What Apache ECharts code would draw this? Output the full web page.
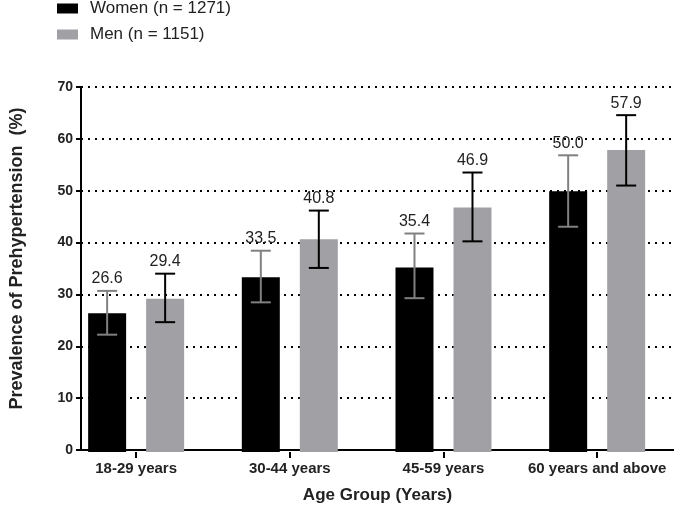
<!DOCTYPE html>
<html><head><meta charset="utf-8">
<script src="https://cdn.jsdelivr.net/npm/echarts@6/dist/echarts.min.js"></script>
<style>html,body{margin:0;padding:0;background:#fff}#c{width:674px;height:509px}</style>
</head><body><div id="c"></div>
<script>
const categories = ['18-29 years', '30-44 years', '45-59 years', '60 years and above'];
const seriesNames = ['Women (n = 1271)', 'Men (n = 1151)'];
const women = [26.6, 33.5, 35.4, 50.0];
const womenLow = [22.5, 28.7, 29.5, 43.2];
const womenHigh = [30.9, 38.6, 41.9, 56.9];
const men = [29.4, 40.8, 46.9, 57.9];
const menLow = [24.9, 35.3, 40.4, 51.1];
const menHigh = [34.2, 46.3, 53.6, 64.6];
const yMin = 0, yMax = 70, yStep = 10;

const FONT = '"Liberation Sans", Arial, sans-serif';
const BAR_W = 38, BAR_GAP = 20;
const OFFSET = (BAR_W + BAR_GAP) / 2;

function errRender(offset, color) {
  return function (params, api) {
    const i = api.value(0);
    const lo = api.coord([i, api.value(1)]);
    const hi = api.coord([i, api.value(2)]);
    const x = lo[0] + offset;
    const cap = 10;
    return {
      type: 'group',
      children: [
        { type: 'line', shape: { x1: x, y1: hi[1], x2: x, y2: lo[1] }, style: { stroke: color, lineWidth: 2 } },
        { type: 'line', shape: { x1: x - cap, y1: hi[1], x2: x + cap, y2: hi[1] }, style: { stroke: color, lineWidth: 2 } },
        { type: 'line', shape: { x1: x - cap, y1: lo[1], x2: x + cap, y2: lo[1] }, style: { stroke: color, lineWidth: 2 } },
        { type: 'text', x: x, y: hi[1] - 4, style: { text: api.value(3).toFixed(1), textAlign: 'center', textVerticalAlign: 'bottom', font: '16px ' + FONT, fill: '#222' } }
      ]
    };
  };
}

const chart = echarts.init(document.getElementById('c'), null, { renderer: 'canvas' });
chart.setOption({
  animation: false,
  backgroundColor: '#fff',
  legend: {
    orient: 'vertical', left: 57, top: 0, padding: 0,
    itemWidth: 21, itemHeight: 10, itemGap: 9, icon: 'rect',
    textStyle: { fontFamily: FONT, fontSize: 17, color: '#222', padding: [0, 0, 0, 7] },
    data: seriesNames
  },
  grid: [
    { left: 67.5, right: 0, top: 87, bottom: 57 },
    { left: 59.3, right: -6.7, top: 87, bottom: 57 }
  ],
  xAxis: [
    {
      gridIndex: 0, type: 'value', min: 0, max: 1,
      axisLine: { show: true, lineStyle: { color: '#000', width: 2 } },
      axisTick: { show: false }, axisLabel: { show: false }, splitLine: { show: false },
      name: 'Age Group (Years)', nameLocation: 'middle', nameGap: 37,
      nameTextStyle: { fontFamily: FONT, fontSize: 17, fontWeight: 'bold', color: '#222' }
    },
    {
      gridIndex: 1, type: 'category', data: categories,
      axisLine: { show: false },
      axisTick: { show: true, alignWithLabel: true, length: 6, lineStyle: { color: '#000', width: 2 } },
      axisLabel: { fontFamily: FONT, fontSize: 15, fontWeight: 'bold', color: '#222', margin: 9, interval: 0 },
      splitLine: { show: false }
    }
  ],
  yAxis: [
    {
      gridIndex: 0, type: 'value', min: yMin, max: yMax, interval: yStep,
      axisLine: { show: true, lineStyle: { color: '#000', width: 2 } },
      axisTick: { show: true, length: 5, lineStyle: { color: '#000', width: 2 } },
      axisLabel: { fontFamily: FONT, fontSize: 14, fontWeight: 'bold', color: '#222', margin: 8 },
      splitLine: { show: true, lineStyle: { color: '#000', width: 2, type: [2, 5] } },
      name: 'Prevalence of Prehypertension  (%)', nameLocation: 'middle', nameGap: 55,
      nameTextStyle: { fontFamily: FONT, fontSize: 18, fontWeight: 'bold', color: '#222', padding: [0, 0, 0, 20] }
    },
    { gridIndex: 1, type: 'value', min: yMin, max: yMax, interval: yStep, show: false }
  ],
  series: [
    {
      name: seriesNames[0], type: 'bar', xAxisIndex: 1, yAxisIndex: 1,
      data: women, barWidth: BAR_W, barGap: (BAR_GAP / BAR_W * 100) + '%',
      itemStyle: { color: '#000' }, z: 3
    },
    {
      name: seriesNames[1], type: 'bar', xAxisIndex: 1, yAxisIndex: 1,
      data: men, barWidth: BAR_W, barGap: (BAR_GAP / BAR_W * 100) + '%',
      itemStyle: { color: '#a1a1a5' }, z: 3
    },
    {
      type: 'custom', xAxisIndex: 1, yAxisIndex: 1, z: 4,
      renderItem: errRender(-OFFSET, '#808080'),
      data: categories.map((c, i) => [i, womenLow[i], womenHigh[i], women[i]])
    },
    {
      type: 'custom', xAxisIndex: 1, yAxisIndex: 1, z: 4,
      renderItem: errRender(OFFSET, '#000'),
      data: categories.map((c, i) => [i, menLow[i], menHigh[i], men[i]])
    }
  ]
});
</script>
</body></html>
